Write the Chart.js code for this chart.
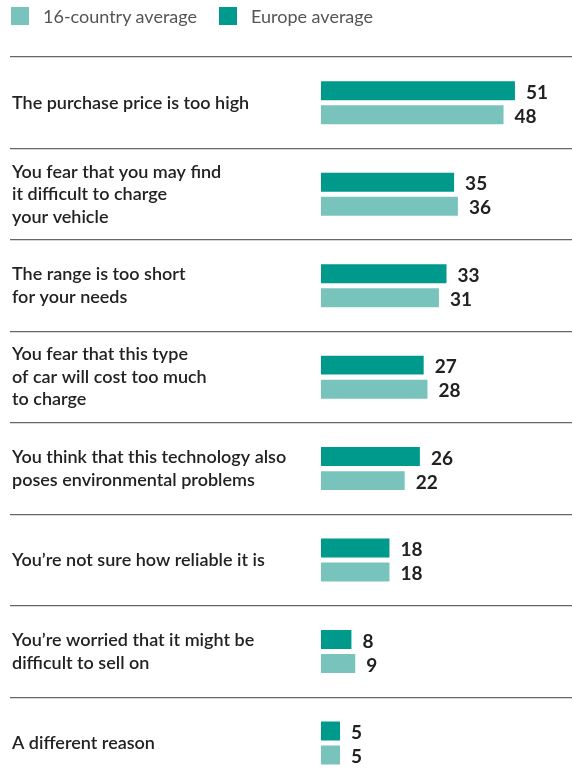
<!DOCTYPE html>
<html>
<head>
<meta charset="utf-8">
<script src="https://cdn.jsdelivr.net/npm/chart.js@4.4.1/dist/chart.umd.min.js"></script>
<style>
  html, body { margin: 0; padding: 0; background: #fff; overflow: hidden; }
  #wrap { position: relative; width: 572px; height: 803px; }
  .legend { position: absolute; top: 1px; left: 11px; height: 30px; display: flex; align-items: center;
            font-family: Lato, "Open Sans", sans-serif; font-weight: 400; font-size: 18px; color: #555; }
  .legendItem { display: flex; align-items: center; margin-right: 22px; }
  .swatch { width: 18px; height: 18px; margin-right: 14px; }
</style>
</head>
<body>
<div id="wrap">
  <div class="legend">
    <div class="legendItem"><span class="swatch" style="background:#78c4bd"></span>16-country average</div>
    <div class="legendItem"><span class="swatch" style="background:#009a8c"></span>Europe average</div>
  </div>
  <canvas id="reasonsChart"></canvas>
</div>
<script>
// Reasons for not buying an electric car (%)
const categories = [
    ['The purchase price is too high'],
    ['You fear that you may find', 'it difficult to charge', 'your vehicle'],
    ['The range is too short', 'for your needs'],
    ['You fear that this type', 'of car will cost too much', 'to charge'],
    ['You think that this technology also', 'poses environmental problems'],
    ['You\u2019re not sure how reliable it is'],
    ['You\u2019re worried that it might be', 'difficult to sell on'],
    ['A different reason']
];
const europeValues = [51, 35, 33, 27, 26, 18, 8, 5];
const countryValues = [48, 36, 31, 28, 22, 18, 9, 5];

const darkTeal = '#009a8c';
const lightTeal = '#78c4bd';

// Value labels to the right of each bar
const valueLabels = {
    id: 'valueLabels',
    afterDatasetsDraw(chart) {
        const ctx = chart.ctx;
        ctx.save();
        ctx.font = 'bold 19px Lato, "Open Sans", sans-serif';
        ctx.fillStyle = '#222';
        ctx.textAlign = 'left';
        ctx.textBaseline = 'middle';
        chart.data.datasets.forEach((ds, i) => {
            chart.getDatasetMeta(i).data.forEach((bar, j) => {
                ctx.fillText(ds.data[j], bar.x + 11, bar.y + 2);
            });
        });
        ctx.restore();
    }
};

const ctx = document.getElementById('reasonsChart').getContext('2d');
new Chart(ctx, {
    type: 'bar',
    data: {
        labels: categories,
        datasets: [{
            label: 'Europe average',
            data: europeValues,
            backgroundColor: darkTeal,
            categoryPercentage: 0.525,
            barPercentage: 0.79
        }, {
            label: '16-country average',
            data: countryValues,
            backgroundColor: lightTeal,
            categoryPercentage: 0.525,
            barPercentage: 0.79
        }]
    },
    options: {
        indexAxis: 'y',
        responsive: true,
        maintainAspectRatio: false,
        animation: false,
        layout: { padding: { top: 57, left: 12, right: 0, bottom: 0 } },
        plugins: {
            legend: { display: false },
            tooltip: { enabled: false }
        },
        scales: {
            x: {
                display: false,
                min: 0,
                max: 66
            },
            y: {
                border: { display: false },
                grid: {
                    offset: true,
                    color: '#666',
                    lineWidth: 1.2,
                    tickLength: 311
                },
                ticks: {
                    crossAlign: 'far',
                    color: '#222',
                    font: { family: 'Lato, "Open Sans", sans-serif', size: 18, weight: '600', lineHeight: 1.25 }
                },
                afterFit(scale) {
                    scale.width = 309;
                }
            }
        }
    },
    plugins: [valueLabels]
});
</script>
</body>
</html>
